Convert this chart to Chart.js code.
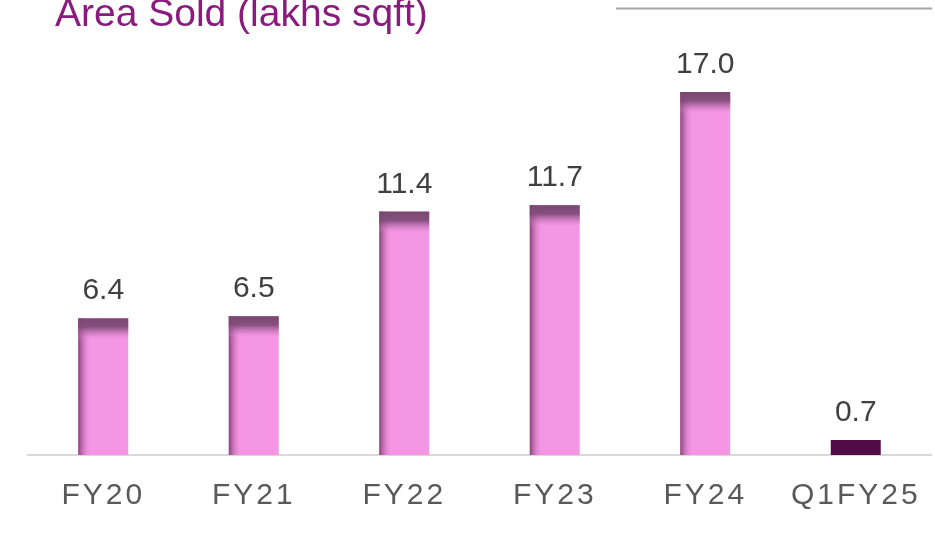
<!DOCTYPE html>
<html>
<head>
<meta charset="utf-8">
<script src="https://cdn.jsdelivr.net/npm/chart.js@4.4.1/dist/chart.umd.min.js"></script>
<style>
  html, body { margin: 0; padding: 0; background: #ffffff; }
  #wrap { position: relative; width: 935px; height: 548px; }
</style>
</head>
<body>
<div id="wrap"><canvas id="c" width="935" height="548"></canvas></div>
<script>
const categories = ["FY20", "FY21", "FY22", "FY23", "FY24", "Q1FY25"];
const areaSold = [6.4, 6.5, 11.4, 11.7, 17.0, 0.7];
const valueLabels = ["6.4", "6.5", "11.4", "11.7", "17.0", "0.7"];
const chartTitle = "Area Sold (lakhs sqft)";

const PINK = "#F596E4";
const DARK = "#500A45";
const barColors = categories.map((c, i) => i === categories.length - 1 ? DARK : PINK);

const decorPlugin = {
  id: "decor",
  beforeDraw(chart) {
    const ctx = chart.ctx;
    ctx.letterSpacing = "3px";
    ctx.save();
    ctx.letterSpacing = "0px";
    // title
    ctx.fillStyle = "#8A1A7D";
    ctx.font = "39px 'Liberation Sans', Arial, sans-serif";
    ctx.textAlign = "left";
    ctx.textBaseline = "alphabetic";
    ctx.fillText(chartTitle, 55, 26);
    // top-right rule
    ctx.strokeStyle = "#A6A6A6";
    ctx.lineWidth = 2;
    ctx.beginPath();
    ctx.moveTo(616, 8.5);
    ctx.lineTo(932, 8.5);
    ctx.stroke();
    ctx.restore();
  },
  afterDatasetsDraw(chart) {
    const ctx = chart.ctx;
    const meta = chart.getDatasetMeta(0);
    ctx.save();
    ctx.letterSpacing = "0px";
    meta.data.forEach((bar, i) => {
      const left = bar.x - bar.width / 2;
      const top = bar.y;
      const h = bar.base - bar.y;
      if (i !== categories.length - 1) {
        // left-edge shading
        const gl = ctx.createLinearGradient(left, 0, left + 13, 0);
        gl.addColorStop(0, "rgba(125,60,115,0.9)");
        gl.addColorStop(0.45, "rgba(165,85,150,0.4)");
        gl.addColorStop(1, "rgba(245,150,228,0)");
        ctx.fillStyle = gl;
        ctx.fillRect(left, top, 13, h);
        // top shading
        const gt = ctx.createLinearGradient(0, top, 0, top + 22);
        gt.addColorStop(0, "rgba(120,72,112,1)");
        gt.addColorStop(0.4, "rgba(126,74,118,0.92)");
        gt.addColorStop(0.7, "rgba(170,100,160,0.45)");
        gt.addColorStop(1, "rgba(245,150,228,0)");
        ctx.fillStyle = gt;
        ctx.fillRect(left, top, bar.width, 22);
      }
      // value label
      ctx.fillStyle = "#404040";
      ctx.font = "30px 'Liberation Sans', Arial, sans-serif";
      ctx.textAlign = "center";
      ctx.textBaseline = "alphabetic";
      ctx.fillText(valueLabels[i], bar.x, top - 19);
    });
    ctx.restore();
  }
};

new Chart(document.getElementById("c"), {
  type: "bar",
  data: {
    labels: categories,
    datasets: [{
      data: areaSold,
      backgroundColor: barColors,
      borderWidth: 0,
      categoryPercentage: 1.0,
      barPercentage: 0.332
    }]
  },
  options: {
    responsive: false,
    animation: false,
    devicePixelRatio: 1,
    layout: { padding: { left: 28, right: 4, top: 0, bottom: 11 } },
    plugins: { legend: { display: false }, tooltip: { enabled: false }, title: { display: false } },
    scales: {
      x: {
        grid: { display: false, drawTicks: false, tickLength: 0 },
        border: { display: true, color: "#D9D9D9", width: 2 },
        ticks: {
          color: "#595959",
          font: { family: "'Liberation Sans', Arial, sans-serif", size: 30 },
          padding: 23,
          maxRotation: 0,
          autoSkip: false
        }
      },
      y: {
        display: false,
        min: 0,
        max: 21.31
      }
    }
  },
  plugins: [decorPlugin]
});
</script>
</body>
</html>
